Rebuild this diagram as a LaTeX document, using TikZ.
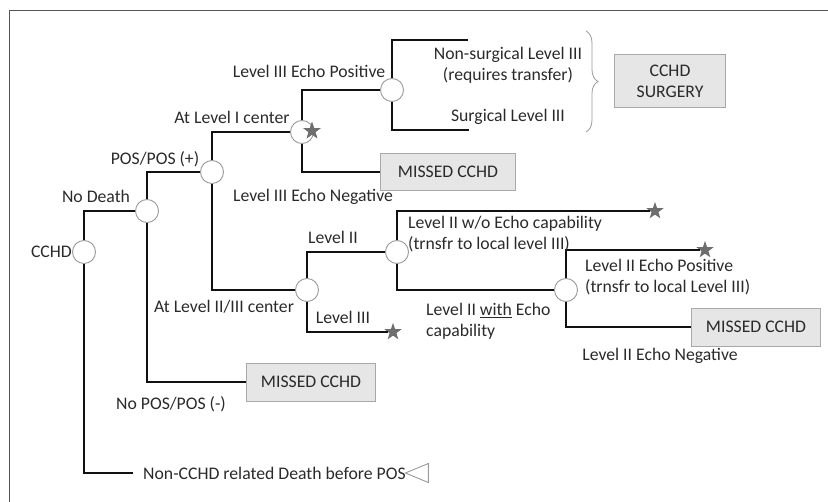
\documentclass[tikz,border=0pt]{standalone}
\usepackage{fontspec}
\setmainfont{Carlito}
\usetikzlibrary{positioning,shapes.geometric,decorations.pathreplacing}
\definecolor{TreeInk}{HTML}{111111}
\definecolor{RingGray}{HTML}{9A9A9A}
\definecolor{FrameGray}{HTML}{555555}
\definecolor{BoxFill}{HTML}{E6E6E6}
\definecolor{BoxLine}{HTML}{A8A8A8}
\definecolor{StarGray}{HTML}{6E6E6E}
\definecolor{TextInk}{HTML}{2A2A2A}
\tikzset{
  branch/.style={draw=TreeInk, line width=2.8pt},
  chance/.style={
    circle,
    draw=RingGray,
    fill=white,
    line width=0.9pt,
    minimum size=23pt,
    inner sep=0pt
  },
  lbl/.style={
    font=\fontsize{17.7}{21}\selectfont,
    text=TextInk,
    align=center,
    inner sep=0pt
  },
  lblleft/.style={lbl, align=left},
  outbox/.style={
    draw=BoxLine,
    fill=BoxFill,
    line width=0.9pt,
    font=\fontsize{17.7}{21}\selectfont,
    text=TextInk,
    align=center,
    inner sep=0pt
  },
  endstar/.style={star, star points=5, star point ratio=2.5, fill=StarGray, minimum size=18pt, inner sep=0pt},
  endtri/.style={
    isosceles triangle,
    isosceles triangle apex angle=45,
    shape border rotate=180,
    draw=RingGray,
    fill=white,
    line width=0.9pt,
    minimum height=23pt,
    inner sep=0pt
  },
  bracket/.style={draw=RingGray, line width=0.8pt, decorate, decoration={brace, amplitude=12pt}}
}

\begin{document}
\begin{tikzpicture}[x=1pt, y=-1pt]
  \useasboundingbox (0,0) rectangle (828,502);
  \draw[draw=FrameGray, line width=1pt] (9,502) -- (9,11) -- (828,11);

  % chance nodes
  \node[chance] (cchd) at (84,252) {};
  \node[chance] (nodeath) at (147,211) {};
  \node[chance] (pos) at (212,172) {};
  \node[chance] (lvl1) at (302,132) {};
  \node[chance] (echo3) at (392,90) {};
  \node[chance] (lvl23) at (307,290) {};
  \node[chance] (lvl2) at (397,252) {};
  \node[chance] (echo2) at (566,290) {};

  % outcomes
  \node[outbox, minimum width=111pt, minimum height=53pt] (surg) at (670,81) {CCHD\\SURGERY};
  \node[outbox, minimum width=135pt, minimum height=37pt] (miss1) at (448,172) {MISSED CCHD};
  \node[outbox, minimum width=129pt, minimum height=38pt] (miss2) at (756,327) {MISSED CCHD};
  \node[outbox, minimum width=129pt, minimum height=38pt] (miss3) at (311,382) {MISSED CCHD};
  \coordinate (nsurgend) at (468,40);
  \coordinate (surgend) at (469,130);
  \coordinate (deathend) at (133,473);
  \node[endstar] (star1) at (312,131) {};
  \node[endstar] (star2) at (393,332) {};
  \node[endstar] (star3) at (655,211) {};
  \node[endstar] (star4) at (705,250) {};
  \node[endtri] (deathtri) at (422,473) {};

  % branches
  \draw[branch] (cchd.north) |- (nodeath.west);
  \draw[branch] (cchd.south) |- (deathend);
  \draw[branch] (nodeath.north) |- (pos.west);
  \draw[branch] (nodeath.south) |- (miss3.west);
  \draw[branch] (pos.north) |- (lvl1.west);
  \draw[branch] (pos.south) |- (lvl23.west);
  \draw[branch] (lvl1.north) |- (echo3.west);
  \draw[branch] (lvl1.south) |- (miss1.west);
  \draw[branch] (echo3.north) |- (nsurgend);
  \draw[branch] (echo3.south) |- (surgend);
  \draw[branch] (lvl23.north) |- (lvl2.west);
  \draw[branch] (lvl23.south) |- (star2.west);
  \draw[branch] (lvl2.north) |- (star3.west);
  \draw[branch] (lvl2.south) |- (echo2.west);
  \draw[branch] (echo2.north) |- (star4.west);
  \draw[branch] (echo2.south) |- (miss2.west);
  \node[endstar] at (star1) {};

  \draw[bracket] (586,31) -- (586,132);

  % labels
  \node[lbl, anchor=east] (tcchd) at (72,252) {CCHD};
  \node[lbl] (tnodeath) at (96,196) {No Death};
  \node[lbl] (tpos) at (155,159) {POS/POS (+)};
  \node[lbl] (tlvl1) at (232,117) {At Level I center};
  \node[lbl] (techo3p) at (309,71) {Level III Echo Positive};
  \node[lbl] (techo3n) at (313,197) {Level III Echo Negative};
  \node[lbl] (tnsurg) at (508,65) {Non-surgical Level III\\(requires transfer)};
  \node[lbl] (tsurg) at (508,117) {Surgical Level III};
  \node[lbl] (tlvl2) at (333,237) {Level II};
  \node[lblleft, anchor=west] (tnoecho) at (408,234) {Level II w/o Echo capability\\(trnsfr to local level III)};
  \node[lbl] (tlvl23) at (224,307) {At Level II/III center};
  \node[lbl] (tlvl3) at (343,317) {Level III};
  \node[lblleft, anchor=west] (twecho) at (426,321) {Level II \underline{with} Echo\\capability};
  \node[lblleft, anchor=west] (techo2p) at (585,277) {Level II Echo Positive\\(trnsfr to local Level III)};
  \node[lbl] (techo2n) at (660,356) {Level II Echo Negative};
  \node[lbl] (tnopos) at (171,404) {No POS/POS (-)};
  \node[lbl, anchor=west] (tdeath) at (143,473) {Non-CCHD related Death before POS};
\end{tikzpicture}
\end{document}
